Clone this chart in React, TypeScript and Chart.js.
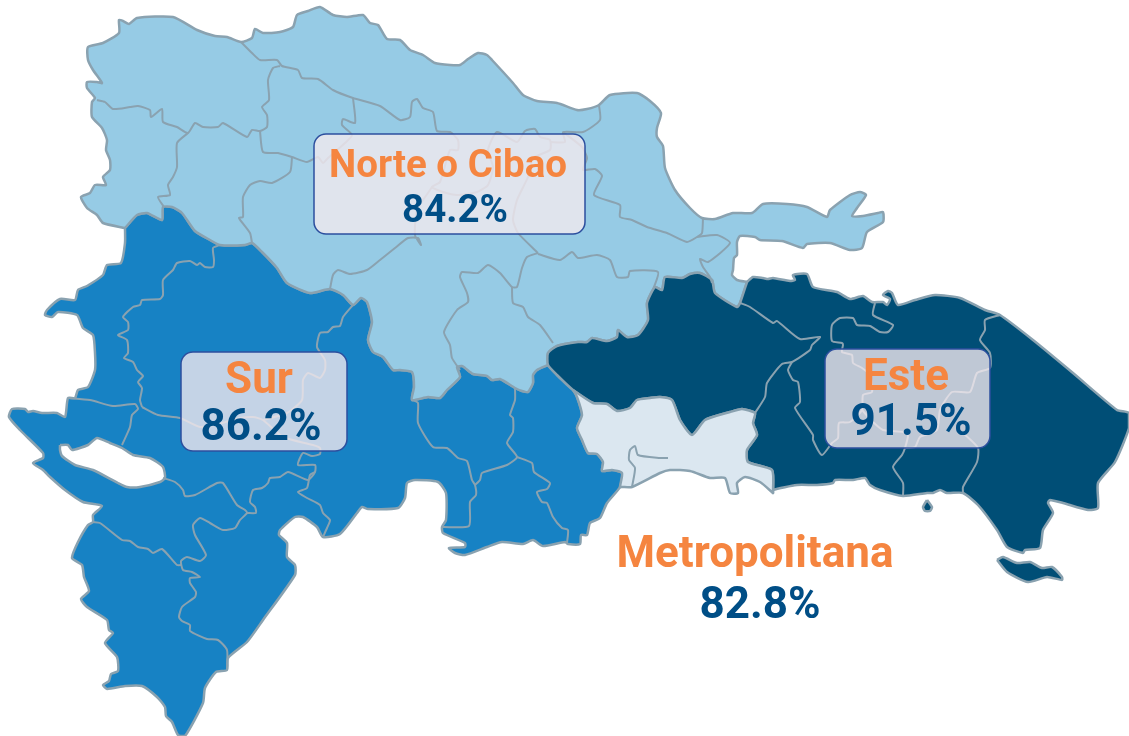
import React, { useEffect, useRef } from "react";
import { Chart, registerables } from "chart.js";

Chart.register(...registerables);

type P = [number, number];

const regionNames = ["Norte o Cibao", "Sur", "Este", "Metropolitana"];
const regionValues = ["84.2%", "86.2%", "91.5%", "82.8%"];

// Map geometry, in the map's own units
const northCoast: P[] = [[125,228],[103,223],[97,215],[87,208],[81,197],[90,193],[95,185],[106,185],[103,177],[110,170],[110,160],[106,150],[107,140],[102,128],[92,117],[92,102],[95,98],[87,88],[87,82],[97,82],[102,83],[93,70],[88,60],[88,47],[103,43],[119,33],[119,20],[123,21],[129,24],[137,18],[173,17],[197,30],[215,36],[227,37],[241,42],[252,38],[255,29],[263,33],[280,32],[293,27],[297,15],[308,11],[320,7],[333,15],[347,17],[363,15],[370,23],[378,25],[387,39],[400,40],[410,50],[423,55],[435,63],[450,65],[460,65],[468,59],[478,53],[487,55],[492,60],[513,83],[523,95],[537,101],[557,103],[577,110],[587,109],[599,105],[610,95],[637,93],[650,101],[661,113],[657,128],[657,137],[663,146],[665,168],[675,190],[690,208],[702,218],[715,219],[733,213],[752,213],[763,204],[787,204],[807,207],[827,217],[830,210],[850,195],[860,192],[866,195],[857,208],[852,216],[863,216],[878,213],[883,212],[883,222],[867,232],[862,248],[850,250],[830,243],[807,244],[803,248],[782,241],[760,240],[755,237],[740,236],[737,242],[737,255],[734,258],[733,270],[732,275],[737,280],[747,282]];
const edgeNorthEste: P[] = [[747,282],[740,303],[737,307],[715,293],[712,280],[700,273],[690,274],[682,278],[665,277],[662,290],[655,287],[647,303],[648,320],[638,335],[627,337],[618,330],[617,337],[607,341],[592,338],[587,342],[578,342],[557,346],[548,353],[548,365]];
const edgeNorthSur: P[] = [[548,365],[537,370],[533,375],[533,383],[528,392],[522,391],[515,388],[500,379],[492,380],[487,376],[473,374],[465,368],[462,366],[457,367],[460,377],[447,390],[440,398],[428,397],[412,400],[414,387],[412,372],[400,370],[393,370],[383,357],[373,352],[368,340],[372,322],[367,302],[361,298],[353,305],[343,295],[330,289],[310,293],[287,283],[277,268],[262,252],[252,243],[245,245],[220,245],[210,240],[195,231],[182,213],[172,207],[163,207],[162,220],[147,213],[137,215],[125,228]];
const sueste: P[] = [[548,365],[557,375],[573,390],[577,397],[582,415],[577,428],[582,440],[588,453],[597,454],[603,462],[602,471],[612,470],[622,473],[620,487],[607,503],[600,518],[590,523],[587,535],[581,535],[580,544],[568,544],[565,542],[543,546],[533,540],[523,544],[502,542],[487,547],[465,555],[455,553],[449,548],[465,547],[465,543],[443,533],[442,527],[446,520],[446,493],[438,482],[415,480],[407,483],[405,498],[398,508],[368,509],[362,507],[357,513],[340,534],[323,537],[317,527],[303,517],[295,517],[280,530],[279,535],[287,543],[287,557],[295,565],[295,575],[263,620],[247,642],[228,658],[227,670],[216,672],[205,688],[203,703],[185,736],[178,735],[172,722],[166,716],[165,707],[157,697],[142,686],[125,686],[107,689],[103,685],[109,681],[111,674],[118,671],[117,657],[105,643],[113,633],[109,630],[107,620],[87,607],[81,599],[89,591],[84,577],[82,565],[72,558],[78,542],[88,525],[93,522],[93,515],[102,506],[83,502],[65,490],[50,477],[43,470],[33,463],[43,458],[43,453],[20,430],[9,417],[12,409],[25,409],[28,412],[33,411],[42,413],[57,413],[65,417],[68,398],[75,398],[78,390],[88,387],[95,370],[95,353],[93,335],[83,328],[77,315],[58,312],[52,317],[45,315],[47,310],[60,299],[75,300],[78,290],[87,286],[103,275],[107,265],[121,263],[125,243],[125,228]];
const metroTop: P[] = [[573,390],[593,403],[607,404],[617,411],[630,408],[637,400],[650,398],[660,397],[672,400],[680,420],[692,435],[705,420],[730,412],[742,409],[755,413],[753,423],[757,435],[747,450],[748,462],[772,470],[773,493]];
const metroCoast: P[] = [[773,493],[760,482],[745,477],[737,483],[738,493],[730,493],[725,478],[710,478],[690,471],[670,470],[660,473],[632,487],[622,487],[620,487],[622,473],[612,470],[602,471],[603,462],[597,454],[588,453],[582,440],[577,428],[582,415],[577,397],[573,390]];
const esteCoast: P[] = [[747,282],[753,277],[763,278],[768,279],[773,278],[790,281],[795,280],[793,275],[807,274],[813,287],[837,292],[850,299],[863,296],[872,302],[883,302],[887,305],[890,299],[883,295],[888,291],[892,293],[898,305],[915,300],[935,295],[960,298],[985,310],[1000,315],[1033,340],[1073,373],[1117,410],[1129,413],[1129,428],[1115,462],[1098,483],[1098,508],[1088,510],[1063,503],[1050,500],[1048,503],[1053,513],[1043,530],[1040,548],[1025,550],[1023,553],[1007,547],[997,530],[978,505],[963,493],[947,493],[940,490],[933,493],[927,493],[903,496],[880,490],[870,485],[865,478],[853,480],[835,480],[833,483],[817,485],[797,485],[773,490],[773,493]];
const saona: P[] = [[997,560],[1003,557],[1017,563],[1030,562],[1042,568],[1052,567],[1062,577],[1062,580],[1047,577],[1028,582],[1007,572],[997,560]];
const catalina: P[] = [[927,500],[932,507],[930,511],[925,511],[923,507],[927,500]];
const lake: P[] = [[60,445],[68,445],[72,450],[88,445],[97,438],[110,443],[122,448],[133,455],[150,458],[163,467],[165,478],[160,482],[140,487],[127,487],[118,483],[93,470],[75,465],[62,456],[60,450],[60,445]];

const northBorders: P[][] = [
  [[97,100],[105,102],[113,109],[130,107],[138,106],[150,110],[151,117],[162,109],[163,122],[177,127],[188,133],[195,123],[203,127],[218,127],[223,123],[247,137],[252,130],[260,131],[267,127],[267,115],[262,107],[269,100],[268,80],[273,68],[280,66]],
  [[241,42],[252,53],[260,60],[277,60],[282,66],[298,70],[302,78],[318,79],[333,90],[353,98],[380,106],[400,120],[410,117],[412,102],[417,99],[423,108],[433,112],[437,131],[450,132],[458,140],[458,150],[450,150],[440,182],[432,187],[443,192],[457,195],[477,192],[488,185],[493,167],[488,150],[497,132],[517,142],[525,131],[535,129],[540,137],[550,140],[550,150],[533,158],[528,177],[517,200],[513,220],[518,233],[538,253]],
  [[260,131],[263,152],[278,153],[292,157],[307,162],[318,157],[323,163],[328,158],[345,143],[352,135],[342,125],[343,119],[355,123],[353,98]],
  [[188,133],[177,143],[177,167],[173,177],[168,185],[170,195],[158,197],[164,207]],
  [[292,157],[290,172],[272,183],[260,181],[250,185],[243,197],[243,217],[239,218],[250,233],[252,243]],
  [[330,289],[333,275],[338,270],[350,274],[367,270],[380,260],[395,248],[408,238],[418,238],[421,245],[415,235],[417,210],[430,190],[432,187]],
  [[550,142],[565,142],[563,132],[583,132],[600,120],[599,105]],
  [[563,132],[582,147],[587,158],[583,170],[595,169],[602,176],[594,195],[620,205],[620,217],[632,220],[647,227],[667,233],[687,242],[697,237],[702,233],[703,218]],
  [[697,237],[717,235],[730,243],[708,262],[700,259],[703,267],[710,277],[712,283]],
  [[538,253],[527,257],[522,268],[517,287],[512,287],[500,273],[488,265],[478,273],[462,272],[460,277],[467,293],[468,302],[457,310],[444,332],[450,345],[452,358],[460,370]],
  [[538,254],[560,260],[572,252],[578,258],[597,255],[610,260],[617,277],[628,277],[630,271],[658,272],[653,290]],
  [[512,287],[513,303],[523,307],[528,317],[540,325],[553,343]],
];
const surBorders: P[][] = [
  [[220,245],[213,248],[214,260],[213,267],[205,267],[200,263],[197,265],[190,261],[177,263],[173,270],[163,280],[163,295],[160,299],[142,300],[140,305],[133,307],[123,317],[128,322],[128,330],[118,335],[127,340],[128,353],[124,358],[133,362],[137,370],[143,376],[138,382],[142,388],[140,400],[142,407]],
  [[68,398],[90,400],[113,406],[135,404],[138,409],[132,415],[130,427],[122,445]],
  [[142,407],[158,415],[180,418],[200,427],[222,423],[240,418],[253,417],[263,420],[283,437],[313,445],[320,448],[320,454],[312,456],[303,453],[298,465],[315,465],[315,472],[308,480],[288,472],[280,477],[270,478],[268,483],[262,488],[253,490],[250,502],[255,507],[256,513],[247,513]],
  [[353,305],[343,317],[340,326],[333,327],[328,332],[320,333],[317,347],[325,360],[325,370],[320,378],[308,373],[303,380],[302,400],[287,413],[263,420]],
  [[163,478],[175,482],[183,490],[185,496],[195,495],[217,483],[223,483],[237,505],[245,510],[247,513],[240,520],[235,528],[223,530],[210,523],[200,518],[193,525],[195,535],[206,555],[200,561],[187,557],[181,561],[183,570],[192,572],[200,577],[190,578],[190,583],[196,592],[195,597],[182,607],[179,617],[182,621],[190,625],[190,631],[207,639],[218,640],[227,650],[227,670]],
  [[93,522],[100,523],[122,540],[130,541],[138,547],[148,549],[153,553],[162,549],[177,565],[182,565]],
  [[315,472],[310,475],[307,488],[298,492],[307,498],[320,505],[323,513],[330,520],[327,528],[323,537]],
  [[412,400],[418,403],[418,423],[433,447],[447,448],[458,458],[467,461],[472,480],[475,485],[476,495],[470,502],[469,526],[443,527]],
  [[515,388],[515,400],[510,415],[513,418],[513,432],[507,443],[517,457],[507,465],[482,473],[480,480],[475,485]],
  [[517,457],[532,463],[534,472],[550,483],[547,489],[537,492],[542,502],[547,503],[553,517],[562,528],[568,530],[567,543]],
];
const metroBorders: P[][] = [
  [[632,487],[635,468],[629,460],[630,450],[635,446],[638,455],[660,458],[668,458]],
];
const esteBorders: P[][] = [
  [[740,303],[750,307],[773,323],[777,321],[800,339],[820,337],[812,345],[810,350],[792,362],[782,364],[767,383],[765,397],[755,413]],
  [[792,362],[788,370],[793,380],[798,382],[800,402],[795,408],[813,435],[813,440],[822,455],[832,443],[838,438],[839,423],[850,422],[862,410],[863,395],[872,392],[870,375],[862,368],[853,363],[852,355],[842,352],[843,345],[842,343],[832,341],[832,325],[840,318],[853,318],[857,325],[870,326],[880,332],[888,332],[893,325],[873,315],[875,303]],
  [[862,410],[873,422],[883,430],[903,432],[908,435],[905,448],[902,455],[893,467],[903,483],[903,496]],
  [[905,448],[915,447],[920,437],[937,430],[940,410],[952,392],[970,392],[977,373],[990,368],[990,353],[980,340],[985,330],[985,320],[1000,315]],
  [[963,433],[978,448],[977,462],[963,487],[963,493]],
];

// Styling and placement of the labels, separate from the data above
const EDGE = "#8aa2b0";
const NORTH = "#96cbe5";
const SUR = "#1782c4";
const ESTE = "#004e76";
const METRO = "#dbe7f0";
const ORANGE = "#f58540";
const BLUE = "#004e86";

const labelLayout = [
  { box: [314, 134, 585, 234], nameY: 177, valueY: 222, cx: 448, valueCx: 455, size: 38.5 },
  { box: [181, 352, 347, 451], nameY: 393, valueY: 440, cx: 259, valueCx: 261, size: 44 },
  { box: [825, 349, 990, 448], nameY: 390, valueY: 435, cx: 906, valueCx: 911, size: 44 },
  { box: null, nameY: 567, valueY: 618, cx: 755, valueCx: 760, size: 44 },
];

const pts = (a: P[]) => a.map(([x, y]) => ({ x, y }));

const shape = (a: P[], fill: string, edge = EDGE) => ({
  data: pts(a),
  showLine: true,
  fill: "shape" as const,
  backgroundColor: fill,
  borderColor: edge,
  borderWidth: 2.5,
  pointRadius: 0,
  tension: 0.2,
  clip: false,
  borderJoinStyle: "round" as const,
});
const line = (a: P[], edge = EDGE) => ({
  data: pts(a),
  showLine: true,
  fill: false,
  borderColor: edge,
  borderWidth: 2,
  pointRadius: 0,
  tension: 0.2,
  clip: false,
  borderJoinStyle: "round" as const,
});

const labelsPlugin = {
  id: "regionLabels",
  afterDatasetsDraw(chart: any) {
    const { ctx, scales } = chart;
    const sx = (v: number) => scales.x.getPixelForValue(v);
    const sy = (v: number) => scales.y.getPixelForValue(v);
    ctx.save();
    labelLayout.forEach((l, i) => {
      if (l.box) {
        const [x0, y0, x1, y1] = l.box;
        ctx.beginPath();
        ctx.roundRect(sx(x0), sy(y0), sx(x1) - sx(x0), sy(y1) - sy(y0), 12);
        ctx.fillStyle = "rgba(245,235,240,0.78)";
        ctx.fill();
        ctx.lineWidth = 1.5;
        ctx.strokeStyle = "#2c4f9e";
        ctx.stroke();
      }
      ctx.textAlign = "center";
      ctx.textBaseline = "alphabetic";
      ctx.font = `700 ${l.size}px Roboto`;
      ctx.fillStyle = ORANGE;
      ctx.fillText(regionNames[i], sx(l.cx), sy(l.nameY));
      ctx.fillStyle = BLUE;
      ctx.fillText(regionValues[i], sx(l.valueCx), sy(l.valueY));
    });
    ctx.restore();
  },
};

export default function App() {
  const ref = useRef<HTMLCanvasElement>(null);
  useEffect(() => {
    if (!ref.current) return;
    const north = [...northCoast, ...edgeNorthEste, ...edgeNorthSur];
    const sur = [...[...edgeNorthSur].reverse(), ...sueste];
    const metro = [...metroTop, ...metroCoast];
    const este: P[] = [...edgeNorthEste, [557, 375], ...metroTop, ...[...esteCoast].reverse()];
    const layers: any[] = [
      shape(sur, SUR),
      shape(north, NORTH),
      shape(este, ESTE),
      shape(metro, METRO),
      shape(saona, ESTE),
      shape(catalina, ESTE),
      shape(lake, "#ffffff"),
      ...surBorders.map((b) => line(b)),
      ...northBorders.map((b) => line(b)),
      ...metroBorders.map((b) => line(b)),
      ...esteBorders.map((b) => line(b)),
    ];
    layers.forEach((d, i) => {
      d.order = layers.length - i;
    });
    const chart = new Chart(ref.current, {
      type: "scatter",
      data: { datasets: layers },
      options: {
        animation: false,
        responsive: false,
        layout: { padding: 0 },
        plugins: { legend: { display: false }, tooltip: { enabled: false } },
        scales: {
          x: { type: "linear", display: false, min: 0, max: 1129 },
          y: { type: "linear", display: false, min: 0, max: 736, reverse: true },
        },
      },
      plugins: [labelsPlugin],
    } as any);
    return () => chart.destroy();
  }, []);
  return (
    <div style={{ position: "fixed", left: 0, top: 0, width: 1129, height: 736, background: "#fff" }}>
      <canvas ref={ref} width={1129} height={736} style={{ display: "block" }} />
    </div>
  );
}
